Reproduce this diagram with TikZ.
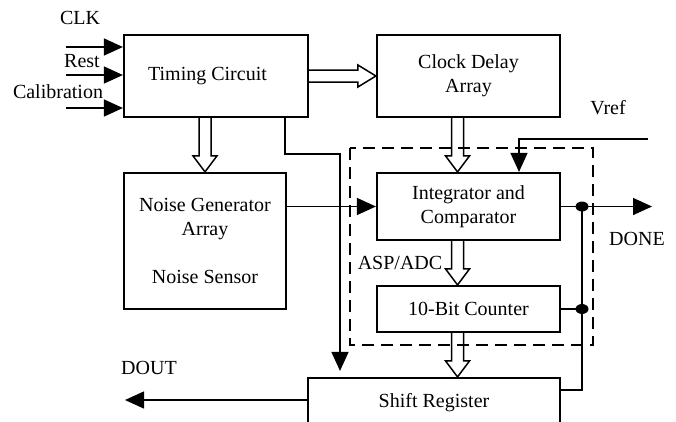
\documentclass[tikz,border=0pt]{standalone}
\usepackage{fontspec}
\setmainfont{Liberation Serif}
\usetikzlibrary{arrows.meta,calc}
\newcommand\hdown[2]{\draw[hollow] let \p1=#1, \p2=#2 in (\x1-6pt,\y1) -- (\x1-6pt,\y2+16pt) -- (\x1-12pt,\y2+16pt) -- (\x1,\y2) -- (\x1+12pt,\y2+16pt) -- (\x1+6pt,\y2+16pt) -- (\x1+6pt,\y1);}
\begin{document}
\begin{tikzpicture}[x=1pt,y=-1pt,
 box/.style={draw,line width=2.2pt,minimum width=183pt,inner sep=0pt,align=center,font=\fontsize{20}{24}\selectfont},
 conn/.style={line width=1.5pt},
 tip/.style={-{Triangle[length=19pt,width=17pt]}},
 hollow/.style={line width=1.5pt,line join=miter},
 lbl/.style={font=\fontsize{20}{24}\selectfont,inner sep=0pt}]
\clip (0,0) rectangle (676,421);
\fill[white] (0,0) rectangle (676,421);

\node[box,minimum width=184pt,minimum height=82pt] (timing) at (216,76) {Timing Circuit\hspace*{17pt}};
\node[box,minimum height=82pt] (clock) at (468.5,76) {Clock Delay\\Array};
\node[box,minimum width=162pt,minimum height=136pt] (noise) at (205,241) {Noise Generator\\Array\\[24pt]Noise Sensor};
\node[box,minimum height=67pt] (integ) at (468.5,206.5) {Integrator and\\Comparator};
\node[box,minimum height=46pt] (counter) at (468.5,309) {10-Bit Counter};
\node[box,minimum width=252pt,minimum height=50pt] (shift) at (434,403) {Shift Register};

% dashed ASP/ADC boundary
\draw[conn,dash pattern=on 12pt off 7pt] (350,148) rectangle (593,345);

% labels
\node[lbl] (clk) at (80,18) {CLK};
\node[lbl] (rest) at (82,61) {Rest};
\node[lbl] (cal) at (58,92) {Calibration};
\node[lbl] (vref) at (608,108) {Vref};
\node[lbl] (done) at (637,239) {DONE};
\node[lbl] (asp) at (400,263) {ASP/ADC};
\node[lbl] (doutl) at (149,368) {DOUT};

% inputs
\coordinate (in1) at (66,47);
\coordinate (in2) at (66,75);
\coordinate (in3) at (66,108);
\draw[conn,tip] (in1) -- (in1 -| timing.west);
\draw[conn,tip] (in2) -- (in2 -| timing.west);
\draw[conn,tip] (in3) -- (in3 -| timing.west);

% hollow arrows
\draw[hollow] let \p1=(timing.east), \p2=(clock.west) in (\x1,\y1+6pt) -- (\x2-18pt,\y1+6pt) -- (\x2-18pt,\y1+11pt) -- (\x2,\y1) -- (\x2-18pt,\y1-11pt) -- (\x2-18pt,\y1-6pt) -- (\x1,\y1-6pt);
\hdown{(timing.south -| noise.north)}{(noise.north)}
\hdown{([xshift=-11]clock.south)}{([xshift=-11]integ.north)}
\hdown{([xshift=-11]integ.south)}{([xshift=-11]counter.north)}
\hdown{([xshift=-11]counter.south)}{(shift.north)}

% Vref
\coordinate (vrefin) at (648,139);
\draw[conn,tip] (vrefin) -| ([xshift=50.5]integ.north);

% noise to integrator
\draw[conn,tip] (noise.east |- integ.west) -- (integ.west);

% done output and bus
\coordinate (doneout) at (652,206.5);
\coordinate (busx) at (582,0);
\coordinate (j1) at (integ.east -| busx);
\coordinate (j2) at (counter.east -| busx);
\coordinate (sreg) at ([yshift=13]shift.east);
\draw[conn,tip] (integ.east) -- (doneout);
\draw[conn] (counter.east) -- (j2);
\draw[conn] (j1) |- (sreg);
\fill (j1) ellipse (6.5 and 5);
\fill (j2) ellipse (6.5 and 5);

% timing to shift register
\draw[conn,tip,shorten >=6pt] ([xshift=69]timing.south) -- ++(0,36) -| ([xshift=-94]shift.north);

% DOUT
\coordinate (dout) at (125,400);
\draw[conn,tip] ([yshift=3]shift.west) -- (dout);
\end{tikzpicture}
\end{document}
